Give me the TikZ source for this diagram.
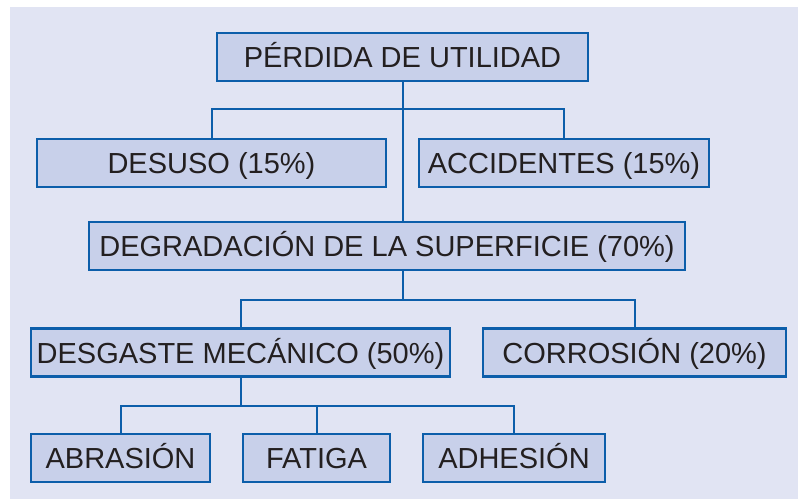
\documentclass[tikz,border=0pt]{standalone}
\usepackage{fontspec}
\setmainfont{Liberation Sans}
\definecolor{fondo}{HTML}{E1E4F3}
\definecolor{relleno}{HTML}{C8D0EA}
\definecolor{borde}{HTML}{0C5EAA}
\definecolor{letra}{HTML}{231F20}
\tikzset{
  bloque/.style={draw=borde, fill=relleno, line width=2.3pt, minimum height=48pt,
    inner sep=0pt, text height=21pt, text depth=0pt, text=letra,
    font=\fontsize{29}{34}\selectfont},
  rama/.style={draw=borde, line width=2pt},
}

\begin{document}
\begin{tikzpicture}[x=1pt,y=-1pt]
  	% page and background
    \useasboundingbox (0,0) rectangle (798,499);
    \fill[fondo] (10,7) rectangle (798,499);
    % boxes
    \node[bloque, minimum width=371pt] (perdida) at (402.5,57) {PÉRDIDA DE UTILIDAD};
    \node[bloque, minimum width=349pt] (desuso) at (211.5,163) {DESUSO (15\%)};
    \node[bloque, minimum width=290pt] (accidentes) at (564,163) {ACCIDENTES (15\%)};
    \node[bloque, minimum width=596pt] (degradacion) at (387,246) {DEGRADACIÓN DE LA SUPERFICIE (70\%)};
    \node[bloque, minimum width=419pt] (desgaste) at (240.5,352.5) {DESGASTE MECÁNICO (50\%)};
    \node[bloque, minimum width=303pt] (corrosion) at (634.5,352.5) {CORROSIÓN (20\%)};
    \node[bloque, minimum width=179pt] (abrasion) at (120.5,458) {ABRASIÓN};
    \node[bloque, minimum width=147pt] (fatiga) at (316.5,458) {FATIGA};
    \node[bloque, minimum width=182pt] (adhesion) at (514,458) {ADHESIÓN};
    % buses
    \coordinate (b1) at (402.5,109);
    \coordinate (b2) at (402.5,300);
    \coordinate (b3) at (240.5,406);
    \draw[rama] (perdida.south) -- (perdida.south |- degradacion.north);% trunk
    \draw[rama] (desuso.north) |- (b1) -| (accidentes.north);
    \draw[rama] (b2 |- degradacion.south) -- (b2);
    \draw[rama] (desgaste.north) |- (b2) -| (corrosion.north);
    \draw[rama] (desgaste.south) -- (b3);
    \draw[rama] (abrasion.north) |- (b3) -| (adhesion.north);
    \draw[rama] (fatiga.north |- b3) -- (fatiga.north);
  \end{tikzpicture}
\end{document}
